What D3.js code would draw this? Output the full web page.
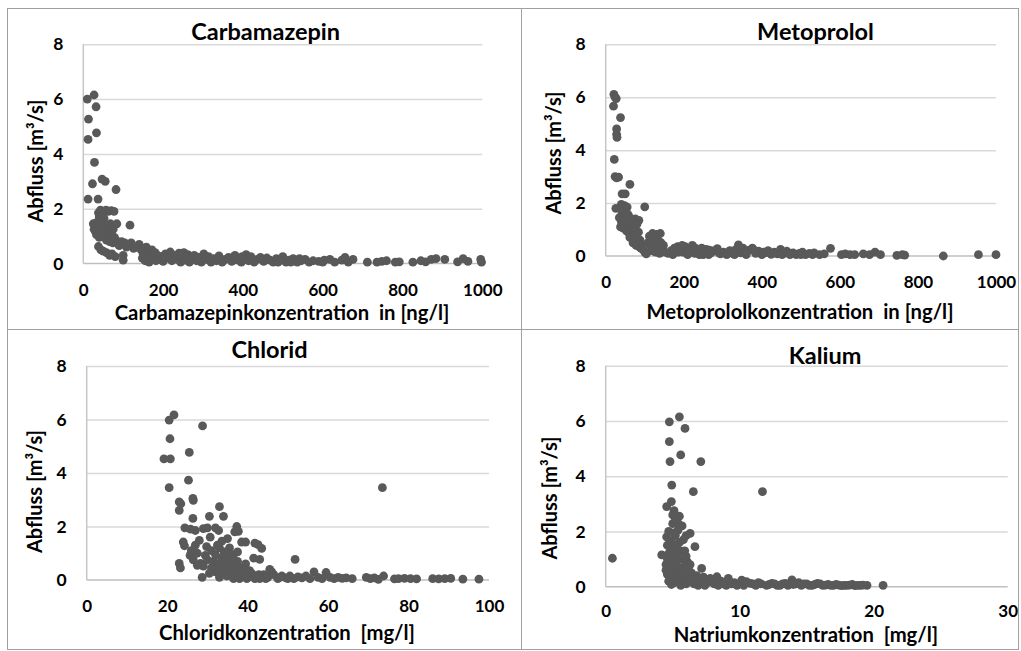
<!DOCTYPE html>
<html>
<head>
<meta charset="utf-8">
<script src="https://cdn.jsdelivr.net/npm/d3@7"></script>
<style>
  html, body { margin: 0; padding: 0; background: #fff; }
  svg { display: block; }
  text { font-family: Lato, "Open Sans", sans-serif; font-weight: 700; fill: #000; }
</style>
</head>
<body>
<svg id="chart" width="1021" height="651"></svg>
<script>
// Panel titles and axis labels
const titles = ["Carbamazepin", "Metoprolol", "Chlorid", "Kalium"];
const xLabels = [
  "Carbamazepinkonzentration  in [ng/l]",
  "Metoprololkonzentration  in [ng/l]",
  "Chloridkonzentration  [mg/l]",
  "Natriumkonzentration  [mg/l]"
];
const yLabel = "Abfluss [m³/s]";

// Tick values
const yTicks = [0, 2, 4, 6, 8];
const xTicksNg = [0, 200, 400, 600, 800, 1000];
const xTicksChlorid = [0, 20, 40, 60, 80, 100];
const xTicksNatrium = [0, 10, 20, 30];

// Measurements: [concentration, discharge m³/s]
const carbamazepin = [
  [10,6.0],[27,6.15],[32,5.72],[13,5.27],[12,4.53],[33,4.77],[28,3.69],[23,2.91],[47,3.08],[55,3.0],[12,2.35],[37,2.35],[82,2.7],[117,1.4],
  [38,1.85],[43,1.95],[50,1.9],[57,1.95],[63,1.9],[70,1.93],[77,1.9],[40,1.7],[52,1.65],[45,1.55],
  [25,1.45],[30,1.4],[34,1.5],[38,1.35],[44,1.45],[50,1.3],[56,1.4],[62,1.3],[68,1.45],[75,1.25],[84,1.45],
  [27,1.25],[31,1.15],[36,1.1],[42,1.2],[48,1.05],[54,1.15],[60,1.0],[66,1.1],[72,1.0],[78,0.95],
  [58,0.85],[66,0.8],[74,0.75],[82,0.85],[88,0.75],[96,0.8],[104,0.75],[112,0.7],[120,0.75],
  [38,0.62],[44,0.5],[50,0.45],[58,0.4],[66,0.3],[72,0.35],[80,0.25],[100,0.3],[100,0.12],[126,0.55],
  [140,0.7],[145,0.5],[150,0.35],[148,0.2],[158,0.6],[163,0.45],[168,0.3],[175,0.2],[172,0.5],[180,0.4],
  [186,0.3],[190,0.15],[196,0.25],[200,0.08],[206,0.35],[212,0.2],[218,0.42],[222,0.1],[230,0.3],[236,0.15],
  [240,0.38],[244,0.05],[248,0.25],[252,0.4],[256,0.12],[262,0.32],[266,0.05],[272,0.2],[278,0.3],[284,0.1],
  [290,0.22],[296,0.05],[302,0.35],[308,0.15],[314,0.25],[320,0.05],[326,0.18],[334,0.1],[340,0.28],[348,0.05],
  [356,0.15],[364,0.22],[372,0.08],[380,0.3],[388,0.12],[396,0.05],[402,0.2],[408,0.32],[414,0.1],[420,0.25],
  [428,0.05],[436,0.15],[444,0.22],[452,0.08],[460,0.2],[468,0.12],[476,0.05],[484,0.18],[492,0.1],[500,0.25],
  [508,0.05],[516,0.12],[526,0.18],[536,0.05],[546,0.1],[556,0.15],[566,0.05],[576,0.1],[590,0.08],[604,0.12],
  [618,0.15],[630,0.05],[648,0.12],[656,0.22],[664,0.05],[676,0.15],[712,0.05],[736,0.05],[748,0.08],[760,0.1],
  [782,0.05],[792,0.06],[826,0.05],[846,0.1],[858,0.06],[872,0.15],[884,0.18],[906,0.15],[938,0.06],[952,0.18],
  [964,0.08],[996,0.15],[998,0.05],
  [35,1.3],[47,1.35],[53,1.25],[64,1.2],[70,1.15],[33,1.05],[40,0.95],[90,0.65],[108,0.6],[132,0.6],
  [155,0.1],[165,0.05],[182,0.1],[203,0.2],[226,0.22],[258,0.2],[286,0.18],[318,0.12],[344,0.15],[376,0.18],
  [398,0.25],[424,0.15],[456,0.15],[488,0.05],[520,0.05],[542,0.18],[600,0.05]
];

const metoprolol = [
  [21,6.11],[24,6.0],[27,5.95],[20,5.66],[38,5.23],[28,4.8],[28,4.6],[29,4.48],[22,3.65],[24,3.0],[28,2.95],[33,2.98],
  [62,2.71],[42,2.35],[50,2.35],[100,1.86],[26,1.8],[40,1.95],[48,1.9],[55,1.85],
  [35,1.45],[42,1.6],[50,1.5],[58,1.55],[66,1.4],[76,1.4],[85,1.35],[40,1.3],[47,1.2],[55,1.15],[63,1.25],[72,1.1],
  [80,1.2],[45,1.05],[53,0.95],[60,0.85],[68,0.95],[76,0.8],[84,0.9],[62,0.7],[72,0.65],[80,0.55],[88,0.6],[92,0.45],
  [85,0.35],[95,0.25],[100,0.15],[104,0.08],
  [112,0.75],[120,0.85],[130,0.82],[140,0.85],[116,0.6],[124,0.55],[134,0.6],[142,0.5],[114,0.4],[126,0.35],[136,0.3],
  [146,0.25],[152,0.15],[160,0.1],[168,0.2],[176,0.3],[184,0.35],[192,0.3],[198,0.15],[204,0.35],[210,0.05],[216,0.25],
  [222,0.4],[228,0.1],[234,0.2],[240,0.05],[246,0.3],[252,0.15],[258,0.25],[264,0.05],[270,0.12],[278,0.2],[286,0.28],
  [294,0.08],[302,0.15],[310,0.05],[318,0.2],[326,0.1],[334,0.25],[340,0.42],[346,0.12],[352,0.3],[360,0.05],[368,0.22],
  [376,0.3],[384,0.1],[392,0.18],[400,0.05],[408,0.12],[416,0.2],[424,0.06],[432,0.15],[440,0.08],[448,0.25],[456,0.1],
  [464,0.18],[472,0.05],[480,0.12],[488,0.05],[496,0.1],[504,0.15],[512,0.05],[522,0.1],[534,0.12],[548,0.05],[560,0.08],
  [576,0.29],[604,0.05],[614,0.08],[626,0.05],[638,0.05],[660,0.08],[676,0.05],[690,0.15],[704,0.05],[746,0.02],[760,0.05],
  [766,0.03],[865,0.0],[955,0.05],[1000,0.05],
  [44,1.75],[52,1.7],[38,1.1],[50,1.35],[58,1.0],[66,1.05],[74,0.95],[70,0.5],[78,0.4],[90,0.3],[108,0.5],[118,0.2],
  [128,0.15],[138,0.1],[148,0.4],[172,0.05],[186,0.15],[196,0.4],[212,0.15],[230,0.3],[250,0.05],[266,0.22],[290,0.12],
  [314,0.1],[330,0.05],[356,0.15],[380,0.22],[404,0.15],[428,0.1],[452,0.05],[476,0.1],[500,0.05],[530,0.05]
];

const chlorid = [
  [20.5,5.98],[21.7,6.17],[28.8,5.76],[20.7,5.28],[19.2,4.53],[20.8,4.53],[25.5,4.77],[25.3,3.73],[20.5,3.45],[73.5,3.45],
  [23.0,2.92],[23.4,2.85],[26.4,3.05],[26.5,2.98],[23.0,2.6],[26.4,2.3],[33.0,2.74],[30.5,2.38],[34.0,2.38],
  [24.4,1.95],[25.8,1.9],[27.0,1.85],[29.0,1.92],[30.0,1.95],[32.0,1.95],[32.8,1.85],[37.3,2.0],[37.7,1.82],[36.8,1.8],
  [24.0,1.42],[24.3,1.28],[27.0,1.3],[28.0,1.48],[30.7,1.6],[33.6,1.45],[35.0,1.55],[38.5,1.42],[39.5,1.42],[41.8,1.38],
  [42.6,1.32],[43.5,1.18],[41.5,0.82],[43.0,0.77],[51.8,0.77],
  [23.0,0.62],[23.3,0.45],[25.7,0.92],[26.5,0.75],[28.3,0.62],[29.0,0.52],[28.7,0.1],[29.5,0.92],
  [26.0,1.1],[27.5,1.0],[29.8,1.25],[31.0,1.1],[32.0,0.95],[33.0,1.2],[34.2,1.05],[35.5,1.2],[36.5,0.95],[37.5,1.05],
  [31.5,0.7],[32.5,0.5],[33.5,0.8],[34.5,0.6],[35.5,0.75],[36.5,0.55],[37.5,0.7],[38.5,0.45],[39.5,0.6],[40.5,0.35],
  [32.0,0.3],[33.0,0.1],[34.0,0.25],[35.0,0.4],[36.0,0.15],[37.0,0.3],[38.0,0.05],[39.0,0.2],[40.0,0.1],[41.0,0.25],
  [42.0,0.15],[43.0,0.05],[44.0,0.2],
  [45.5,0.4],[45.0,0.1],[46.5,0.2],[47.5,0.05],[48.5,0.15],[49.5,0.08],[50.5,0.15],[51.5,0.05],[52.5,0.12],[53.5,0.08],
  [54.5,0.15],[55.5,0.05],[56.5,0.3],[57.5,0.1],[58.5,0.05],[59.5,0.28],[60.5,0.1],[61.5,0.05],[62.5,0.1],[63.5,0.06],
  [64.5,0.08],[66.0,0.05],[69.5,0.1],[70.5,0.05],[71.5,0.08],[72.5,0.02],[73.8,0.15],[76.5,0.04],[77.5,0.05],[79.0,0.06],
  [80.5,0.05],[82.0,0.04],[86.0,0.05],[87.5,0.04],[89.0,0.05],[90.5,0.06],[93.5,0.03],[97.5,0.03],
  [32.5,1.3],[34.0,0.9],[35.0,1.0],[36.0,0.85],[33.0,0.6],[34.0,0.45],[35.2,0.55],[36.2,0.35],[37.2,0.45],[38.2,0.25],
  [39.2,0.35],[33.5,0.35],[34.8,0.15],[36.5,0.05],[37.8,0.15],[39.8,0.05],[40.8,0.15],[41.8,0.05],[42.8,0.2],[44.5,0.05],
  [30.0,0.75],[31.0,0.45],[30.5,0.25],[27.5,0.55],[46.0,0.3],[48.0,0.1],[50.0,0.05]
];

const kalium = [
  [0.5,1.03],[5.5,6.15],[4.75,5.97],[5.92,5.73],[4.75,5.25],[4.8,4.53],[5.6,4.77],[7.1,4.53],[4.93,3.68],[6.54,3.44],[11.7,3.44],
  [4.55,2.9],[4.9,3.08],[5.1,2.75],[5.3,2.52],[5.5,2.55],[5.0,2.28],[5.2,2.4],[5.4,2.05],[6.3,1.93],[6.0,1.85],
  [4.55,1.8],[4.9,1.65],[5.2,1.85],[5.5,1.6],[4.8,1.4],[5.1,1.5],[5.6,1.3],[6.66,1.45],[4.18,1.15],[4.5,0.8],[4.5,0.6],
  [4.7,1.2],[5.0,1.05],[5.3,1.15],[5.8,1.0],[6.1,0.9],[4.8,0.9],[5.2,0.8],[5.5,0.7],[5.9,0.75],[6.3,0.8],[4.6,0.45],
  [4.9,0.3],[5.2,0.55],[5.6,0.45],[6.0,0.35],[6.4,0.5],[4.7,0.2],[5.3,0.25],[5.8,0.15],[6.2,0.2],[6.6,0.1],
  [7.16,0.66],[7.3,0.35],[7.0,0.2],[7.6,0.15],
  [8.3,0.36],[8.1,0.1],[8.6,0.2],[9.15,0.3],[9.0,0.05],[9.6,0.15],[10.15,0.24],[10.3,0.05],[10.8,0.12],[11.2,0.05],
  [11.6,0.1],[12.0,0.05],[12.4,0.12],[12.8,0.05],[13.2,0.1],[13.6,0.05],[13.9,0.25],[14.2,0.1],[14.6,0.05],[15.0,0.1],
  [15.4,0.05],[15.8,0.12],[16.2,0.05],[16.6,0.08],[17.0,0.05],[17.4,0.06],[17.8,0.05],[18.2,0.06],[18.6,0.04],[19.0,0.05],
  [19.5,0.05],[20.7,0.05],
  [5.0,2.6],[5.4,2.3],[5.7,2.2],[4.7,2.0],[5.1,1.95],[5.8,1.7],[4.6,1.5],[5.3,1.4],[5.9,1.3],[4.9,1.3],[5.4,1.0],[6.0,1.1],
  [4.6,1.0],[5.0,0.65],[5.7,0.6],[6.2,0.6],[4.8,0.55],[5.4,0.35],[5.1,0.15],[4.9,0.08],[5.6,0.05],[6.0,0.1],[6.4,0.25],
  [6.8,0.4],[6.9,0.05],[7.4,0.05],[7.8,0.3],[8.4,0.05],[8.8,0.1],[9.4,0.1],[9.8,0.05],[10.5,0.18],[11.0,0.1],[11.4,0.15],
  [12.2,0.08],[12.6,0.1],[13.0,0.05],[13.4,0.12],[14.0,0.08],[14.4,0.15],[14.8,0.1],[15.2,0.05],[15.6,0.08],[16.0,0.1],
  [16.4,0.06],[16.8,0.05],[17.2,0.08],[17.6,0.04],[18.0,0.05],[18.4,0.08],[18.8,0.05],[19.2,0.06]
];

// Layout of the four panels (plot box in px, label anchors)
const panels = [
  { title: titles[0], xLabel: xLabels[0], data: carbamazepin, xTicks: xTicksNg,
    left: 83.3, right: 482.3, bottom: 263.5, top: 44.3,
    titleX: 265.7, titleY: 40, xTitleX: 282, xTitleY: 320, yTitleX: 43, yTitleY: 161, xTickY: 295.5 },
  { title: titles[1], xLabel: xLabels[1], data: metoprolol, xTicks: xTicksNg,
    left: 605.7, right: 996, bottom: 256, top: 44.3,
    titleX: 815.5, titleY: 40, xTitleX: 800, xTitleY: 318.5, yTitleX: 561, yTitleY: 153, xTickY: 288 },
  { title: titles[2], xLabel: xLabels[2], data: chlorid, xTicks: xTicksChlorid,
    left: 86.7, right: 489, bottom: 580, top: 366,
    titleX: 269.5, titleY: 358, xTitleX: 287, xTitleY: 640, yTitleX: 42, yTitleY: 491.5, xTickY: 612 },
  { title: titles[3], xLabel: xLabels[3], data: kalium, xTicks: xTicksNatrium,
    left: 605.7, right: 1007.7, bottom: 586.7, top: 365.7,
    titleX: 825, titleY: 364, xTitleX: 806, xTitleY: 641.5, yTitleX: 557, yTitleY: 498, xTickY: 617 }
];

const svg = d3.select("#chart");
svg.append("rect").attr("width", 1021).attr("height", 651).attr("fill", "#fff");

panels.forEach(p => {
  const xMax = p.xTicks[p.xTicks.length - 1];
  const x = d3.scaleLinear().domain([0, xMax]).range([p.left, p.right]);
  const y = d3.scaleLinear().domain([0, 8]).range([p.bottom, p.top]);
  const g = svg.append("g");

  // horizontal gridlines
  g.append("g")
    .attr("transform", `translate(${p.left},0)`)
    .call(d3.axisLeft(y).tickValues(yTicks.slice(1)).tickSize(-(p.right - p.left)).tickFormat(""))
    .call(a => a.select(".domain").remove())
    .call(a => a.selectAll("line").attr("stroke", "#d9d9d9").attr("stroke-width", 1.5));

  // axis lines
  g.append("line").attr("x1", x(0)).attr("x2", x(0)).attr("y1", y(0)).attr("y2", y(8))
    .attr("stroke", "#c6c6c6").attr("stroke-width", 1.5);
  g.append("line").attr("x1", x(0)).attr("x2", x(xMax)).attr("y1", y(0)).attr("y2", y(0))
    .attr("stroke", "#bfbfbf").attr("stroke-width", 1.5);

  // y tick labels
  g.append("g")
    .attr("transform", `translate(${p.left},0)`)
    .call(d3.axisLeft(y).tickValues(yTicks).tickSize(0).tickPadding(20).tickFormat(d3.format("d")))
    .call(a => a.select(".domain").remove())
    .call(a => a.selectAll("text").attr("font-size", 17.5).attr("font-family", null).attr("fill", "#000"));

  // x tick labels
  g.append("g")
    .attr("transform", `translate(0,${p.bottom})`)
    .call(d3.axisBottom(x).tickValues(p.xTicks).tickSize(0).tickFormat(d3.format("d")))
    .call(a => a.select(".domain").remove())
    .call(a => a.selectAll("text").attr("font-size", 17).attr("font-family", null).attr("fill", "#000")
      .attr("y", p.xTickY - p.bottom).attr("dy", 0));

  // points
  g.append("g").selectAll("circle").data(p.data).join("circle")
    .attr("cx", d => x(d[0])).attr("cy", d => y(d[1])).attr("r", 4.4)
    .attr("fill", "#595959");

  // titles
  g.append("text").attr("x", p.titleX).attr("y", p.titleY).attr("text-anchor", "middle")
    .attr("font-size", 23.5).text(p.title);
  g.append("text").attr("x", p.xTitleX).attr("y", p.xTitleY).attr("text-anchor", "middle")
    .attr("font-size", 20.3).style("white-space", "pre").text(p.xLabel);
  g.append("text").attr("transform", `translate(${p.yTitleX},${p.yTitleY}) rotate(-90)`)
    .attr("text-anchor", "middle").attr("font-size", 20).text(yLabel);
});

// frame and dividers
const frame = svg.append("g").attr("stroke", "#a0a0a0").attr("stroke-width", 1).attr("fill", "none");
frame.append("rect").attr("x", 7.5).attr("y", 8.5).attr("width", 1011).attr("height", 641);
frame.append("line").attr("x1", 521.5).attr("x2", 521.5).attr("y1", 8.5).attr("y2", 649.5);
frame.append("line").attr("x1", 7.5).attr("x2", 1018.5).attr("y1", 329.5).attr("y2", 329.5);
</script>
</body>
</html>
